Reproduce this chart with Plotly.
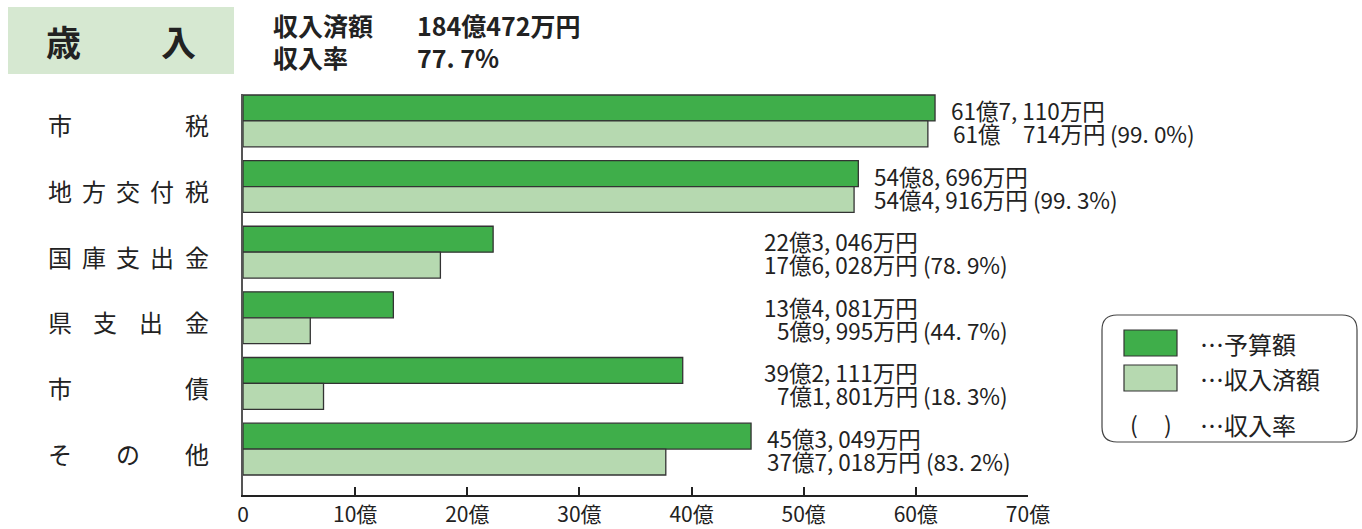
import plotly.graph_objects as go

# ---- data ----
categories = ["市税", "地方交付税", "国庫支出金", "県支出金", "市債", "その他"]
budget = [61.7110, 54.8696, 22.3046, 13.4081, 39.2111, 45.3049]      # 億円 予算額
received = [61.0714, 54.4916, 17.6028, 5.9995, 7.1801, 37.7018]     # 億円 収入済額
budget_text = ["61億7, 110万円", "54億8, 696万円", "22億3, 046万円",
               "13億4, 081万円", "39億2, 111万円", "45億3, 049万円"]
received_text = ["61億　714万円", "54億4, 916万円", "17億6, 028万円",
                 "5億9, 995万円", "7億1, 801万円", "37億7, 018万円"]
rate_text = ["(99. 0%)", "(99. 3%)", "(78. 9%)", "(44. 7%)", "(18. 3%)", "(83. 2%)"]
x_ticks = [0, 10, 20, 30, 40, 50, 60, 70]
x_tick_labels = ["0", "10億", "20億", "30億", "40億", "50億", "60億", "70億"]
total_text = "184億472万円"
total_rate = "77. 7%"

FONT = "Noto Sans CJK JP"
W, H = 1362, 529
L, R, T, B = 243, 1028, 94, 495   # plot area in pixels

def px(x):
    return (x - L) / (R - L)

def py(y):
    return (B - y) / (B - T)

fig = go.Figure()
fig.add_trace(go.Bar(y=categories, x=budget, orientation="h", name="予算額",
                     marker=dict(color="#3fae4a", line=dict(color="#333333", width=1.3))))
fig.add_trace(go.Bar(y=categories, x=received, orientation="h", name="収入済額",
                     marker=dict(color="#b6d9b0", line=dict(color="#333333", width=1.3))))

ann = []
shapes = []

# value labels
AMT_W = 157  # approx pixel width of an amount string
VS = 22.5
for i, c in enumerate(categories):
    xs = max(budget[i], 45.0)
    ann.append(dict(x=xs, y=c, xref="x", yref="y", text=budget_text[i], showarrow=False,
                    xanchor="right", yanchor="middle", xshift=15 + AMT_W, yshift=11,
                    font=dict(family=FONT, size=VS, color="#222222")))
    ann.append(dict(x=xs, y=c, xref="x", yref="y", text=received_text[i], showarrow=False,
                    xanchor="right", yanchor="middle", xshift=15 + AMT_W, yshift=-12,
                    font=dict(family=FONT, size=VS, color="#222222")))
    ann.append(dict(x=xs, y=c, xref="x", yref="y", text=rate_text[i], showarrow=False,
                    xanchor="left", yanchor="middle", xshift=15 + AMT_W + 1, yshift=-12,
                    font=dict(family=FONT, size=VS, color="#222222")))

# category labels, characters spread between fixed left/right columns
c0, c1 = 59.5, 196.5
for c in categories:
    n = len(c)
    for k, ch in enumerate(c):
        xc = c0 + (c1 - c0) * k / (n - 1)
        ann.append(dict(x=px(xc), y=c, xref="paper", yref="y", text=ch, showarrow=False,
                        xanchor="center", yanchor="middle", yshift=-4,
                        font=dict(family=FONT, size=24, color="#222222")))

# header box
shapes.append(dict(type="rect", xref="paper", yref="paper", x0=px(8), x1=px(234),
                   y0=py(74), y1=py(7), fillcolor="#d6e8d1", line=dict(width=0), layer="below"))
for ch, xc in [("歳", 63), ("入", 178)]:
    ann.append(dict(x=px(xc), y=py(41), xref="paper", yref="paper", text="<b>" + ch + "</b>",
                    showarrow=False, xanchor="center", yanchor="middle",
                    font=dict(family=FONT, size=35, color="#222222")))
for t, xl, yc in [("収入済額", 271, 25), (total_text, 415, 25),
                  ("収入率", 271, 57), (total_rate, 415, 57)]:
    ann.append(dict(x=px(xl), y=py(yc), xref="paper", yref="paper", text="<b>" + t + "</b>",
                    showarrow=False, xanchor="left", yanchor="middle",
                    font=dict(family=FONT, size=25, color="#222222")))

# legend box (rounded)
bx0, bx1, by0, by1, rr = 1102, 1357, 315, 442, 15
X0, X1, Y0, Y1 = px(bx0), px(bx1), py(by1), py(by0)
rx = rr / (R - L)
ry = rr / (B - T)
path = (f"M {X0+rx},{Y1} L {X1-rx},{Y1} Q {X1},{Y1} {X1},{Y1-ry} "
        f"L {X1},{Y0+ry} Q {X1},{Y0} {X1-rx},{Y0} L {X0+rx},{Y0} "
        f"Q {X0},{Y0} {X0},{Y0+ry} L {X0},{Y1-ry} Q {X0},{Y1} {X0+rx},{Y1} Z")
shapes.append(dict(type="path", xref="paper", yref="paper", path=path,
                   line=dict(color="#444444", width=1.2), fillcolor="white"))
shapes.append(dict(type="rect", xref="paper", yref="paper", x0=px(1124), x1=px(1177),
                   y0=py(356), y1=py(330), fillcolor="#3fae4a", line=dict(color="#333333", width=1.2)))
shapes.append(dict(type="rect", xref="paper", yref="paper", x0=px(1124), x1=px(1177),
                   y0=py(391), y1=py(365), fillcolor="#b6d9b0", line=dict(color="#333333", width=1.2)))
ann.append(dict(x=px(1134), y=py(424), xref="paper", yref="paper", text="(", showarrow=False,
                xanchor="center", yanchor="middle", font=dict(family=FONT, size=23, color="#222222")))
ann.append(dict(x=px(1168), y=py(424), xref="paper", yref="paper", text=")", showarrow=False,
                xanchor="center", yanchor="middle", font=dict(family=FONT, size=23, color="#222222")))
for t, yc in [("…予算額", 343), ("…収入済額", 378), ("…収入率", 424)]:
    ann.append(dict(x=px(1198), y=py(yc), xref="paper", yref="paper", text=t, showarrow=False,
                    xanchor="left", yanchor="middle",
                    font=dict(family=FONT, size=24, color="#222222")))

fig.update_layout(
    width=W, height=H, autosize=False,
    margin=dict(l=L, r=W - R, t=T, b=H - B, pad=0, autoexpand=False),
    paper_bgcolor="white", plot_bgcolor="white",
    barmode="group", bargap=0.21, bargroupgap=0,
    showlegend=False,
    annotations=ann, shapes=shapes,
    font=dict(family=FONT),
)
fig.update_xaxes(range=[0, 70], tickvals=x_ticks, ticktext=x_tick_labels, automargin=False,
                 showgrid=False, zeroline=False, showline=True, linecolor="#222222", linewidth=2,
                 ticks="inside", ticklen=8, tickwidth=1.5, tickcolor="#222222",
                 tickfont=dict(family=FONT, size=21, color="#222222"))
fig.update_yaxes(range=[5.70, -0.41], showticklabels=False, showgrid=False, zeroline=False,
                 automargin=False,
                 showline=True, linecolor="#555555", linewidth=2, ticks="")

fig.write_html("out.html", config={"displayModeBar": False},
               post_script="document.body.style.margin='0';document.body.style.overflow='hidden';")
